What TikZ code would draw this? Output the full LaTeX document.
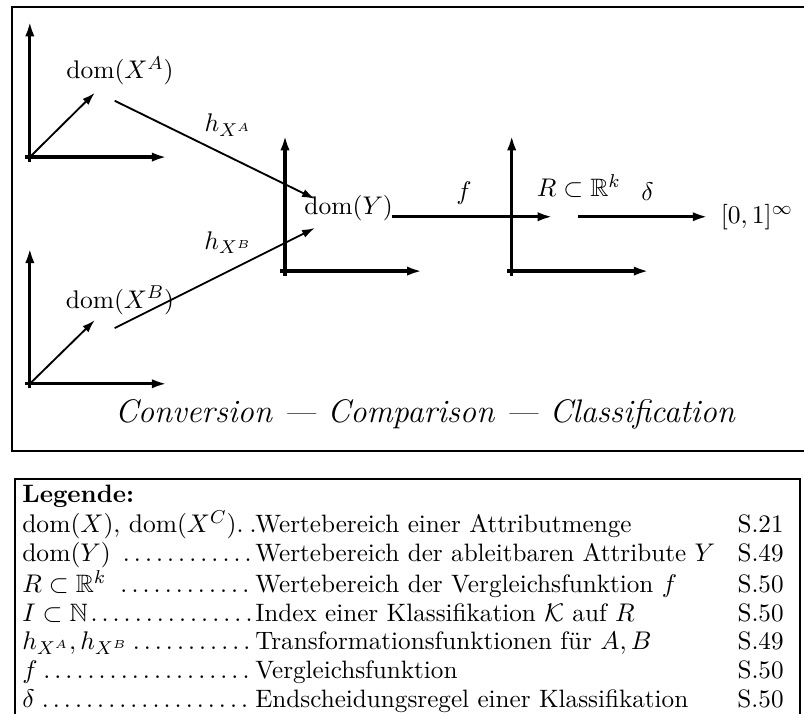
\documentclass[tikz,border=0pt]{standalone}
\usepackage{amsmath, amssymb}
\usepackage{tikz}
\usetikzlibrary{arrows.meta, positioning}
\tikzset{
    axisLine/.style={
        line width=1.4pt,
        -{Latex[length=6.5pt, width=4pt]}
    },
    mapArrow/.style={
        line width=0.8pt,
        -{Latex[length=5.5pt, width=3.6pt]}
    },
    frameBox/.style={
        draw=black,
        line width=0.8pt
    }
}
\newcommand{\legendItem}[2]{\makebox[100pt][l]{#1\dotfill}#2}

\begin{document}
\begin{tikzpicture}[font=\fontsize{10.8}{12.3}\selectfont]
            \useasboundingbox (0,0) rectangle (12.13,-10.77);

            % Frames
            \draw[frameBox] (0.18,-0.11) rectangle (12.6,-6.80);
            \draw[frameBox] (0.23,-7.23) rectangle (12.07,-11.2);

            % Coordinates
            \coordinate (oA) at (0.45,-2.37);
            \coordinate (oB) at (0.45,-5.79);
            \coordinate (oY) at (4.30,-4.09);
            \coordinate (oR) at (7.72,-4.09);
            \coordinate (tipA) at (1.43,-1.40);
            \coordinate (tipB) at (1.43,-4.83);

            % Axes
            \foreach \o in {oA, oB, oY, oR} {
                \draw[axisLine] ([yshift=-2pt]\o) -- ([yshift=2.05cm]\o);
                \draw[axisLine] ([xshift=-2pt]\o) -- ([xshift=2.07cm]\o);
            }
            \draw[mapArrow] (oA) -- (tipA);
            \draw[mapArrow] (oB) -- (tipB);

            % Nodes
            \node (domXA) at (1.81,-1.07) {$\mathrm{dom}(X^A)$};
            \node (domXB) at (1.81,-4.53) {$\mathrm{dom}(X^B)$};
            \node (domY) at (5.26,-3.14) {$\mathrm{dom}(Y)$};
            \node (setR) at (8.73,-2.81) {$R\subset\mathbb{R}^k$};
            \node[anchor=base west] (unitCube) at (10.75,-3.37) {$[0,1]^\infty$};

            % Transformations
            \coordinate (hAstart) at (1.73,-1.52);
            \coordinate (hAend) at (4.75,-3.00);
            \coordinate (hBstart) at (1.73,-4.95);
            \coordinate (hBend) at (4.75,-3.44);
            \draw[mapArrow] (hAstart) -- (hAend);
            \draw[mapArrow] (hBstart) -- (hBend);
            \node (hA) at (3.44,-1.89) {$h_{X^A}$};
            \node (hB) at (3.44,-3.66) {$h_{X^B}$};

            % Comparison and classification
            \coordinate (fStart) at (5.91,-3.27);
            \coordinate (fEnd) at (8.34,-3.27);
            \coordinate (dStart) at (8.72,-3.27);
            \coordinate (dEnd) at (10.68,-3.27);
            \draw[axisLine] (fStart) -- (fEnd);
            \draw[axisLine] (dStart) -- (dEnd);
            \node (fLabel) at (7.00,-2.91) {$f$};
            \node (dLabel) at (9.77,-2.89) {$\delta$};

            % Caption
            \node (caption) at (6.41,-6.25)
                {\fontsize{14}{17}\selectfont\itshape Conversion --- Comparison --- Classification};

            % Legend
            \node[anchor=north west, inner sep=0pt] (legend) at (0.33,-7.27) {%
                \begin{tabular}{@{}p{307pt}@{}r@{}}
                    \textbf{Legende:} & \\
                    \makebox[100pt][l]{$\mathrm{dom}(X)$, $\mathrm{dom}(X^C)$\hfill.\hspace{2.6pt}.}Wertebereich einer Attributmenge & S.21\\
                    \legendItem{$\mathrm{dom}(Y)$\ }{Wertebereich der ableitbaren Attribute $Y$} & S.49\\
                    \legendItem{$R\subset\mathbb{R}^k$\ }{Wertebereich der Vergleichsfunktion $f$} & S.50\\
                    \legendItem{$I\subset\mathbb{N}$}{Index einer Klassifikation $\mathcal{K}$ auf $R$} & S.50\\
                    \legendItem{$h_{X^A},h_{X^B}$}{Transformationsfunktionen für $A,B$} & S.49\\
                    \legendItem{$f$}{Vergleichsfunktion} & S.50\\
                    \legendItem{$\delta$}{Endscheidungsregel einer Klassifikation} & S.50
                \end{tabular}};
        \end{tikzpicture}
\end{document}
